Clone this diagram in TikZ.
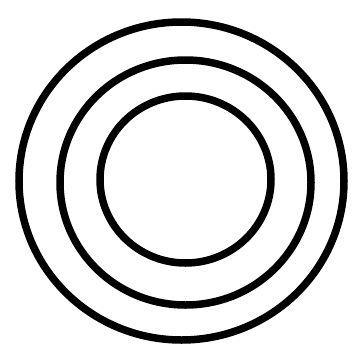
\documentclass[tikz,border=0pt]{standalone}
\begin{document}
\begin{tikzpicture}[x=1pt,y=-1pt,ring/.style={draw=black,line width=7.5pt}]
\useasboundingbox (0,0) rectangle (356,354);
\fill[white] (0,0) rectangle (356,354);
\draw[ring] (181.5,181) ellipse [x radius=162.5, y radius=159];
\draw[ring] (185.5,182.5) ellipse [x radius=125.5, y radius=122.5];
\draw[ring] (185.5,179.5) ellipse [x radius=85.5, y radius=83.5];
\end{tikzpicture}
\end{document}
